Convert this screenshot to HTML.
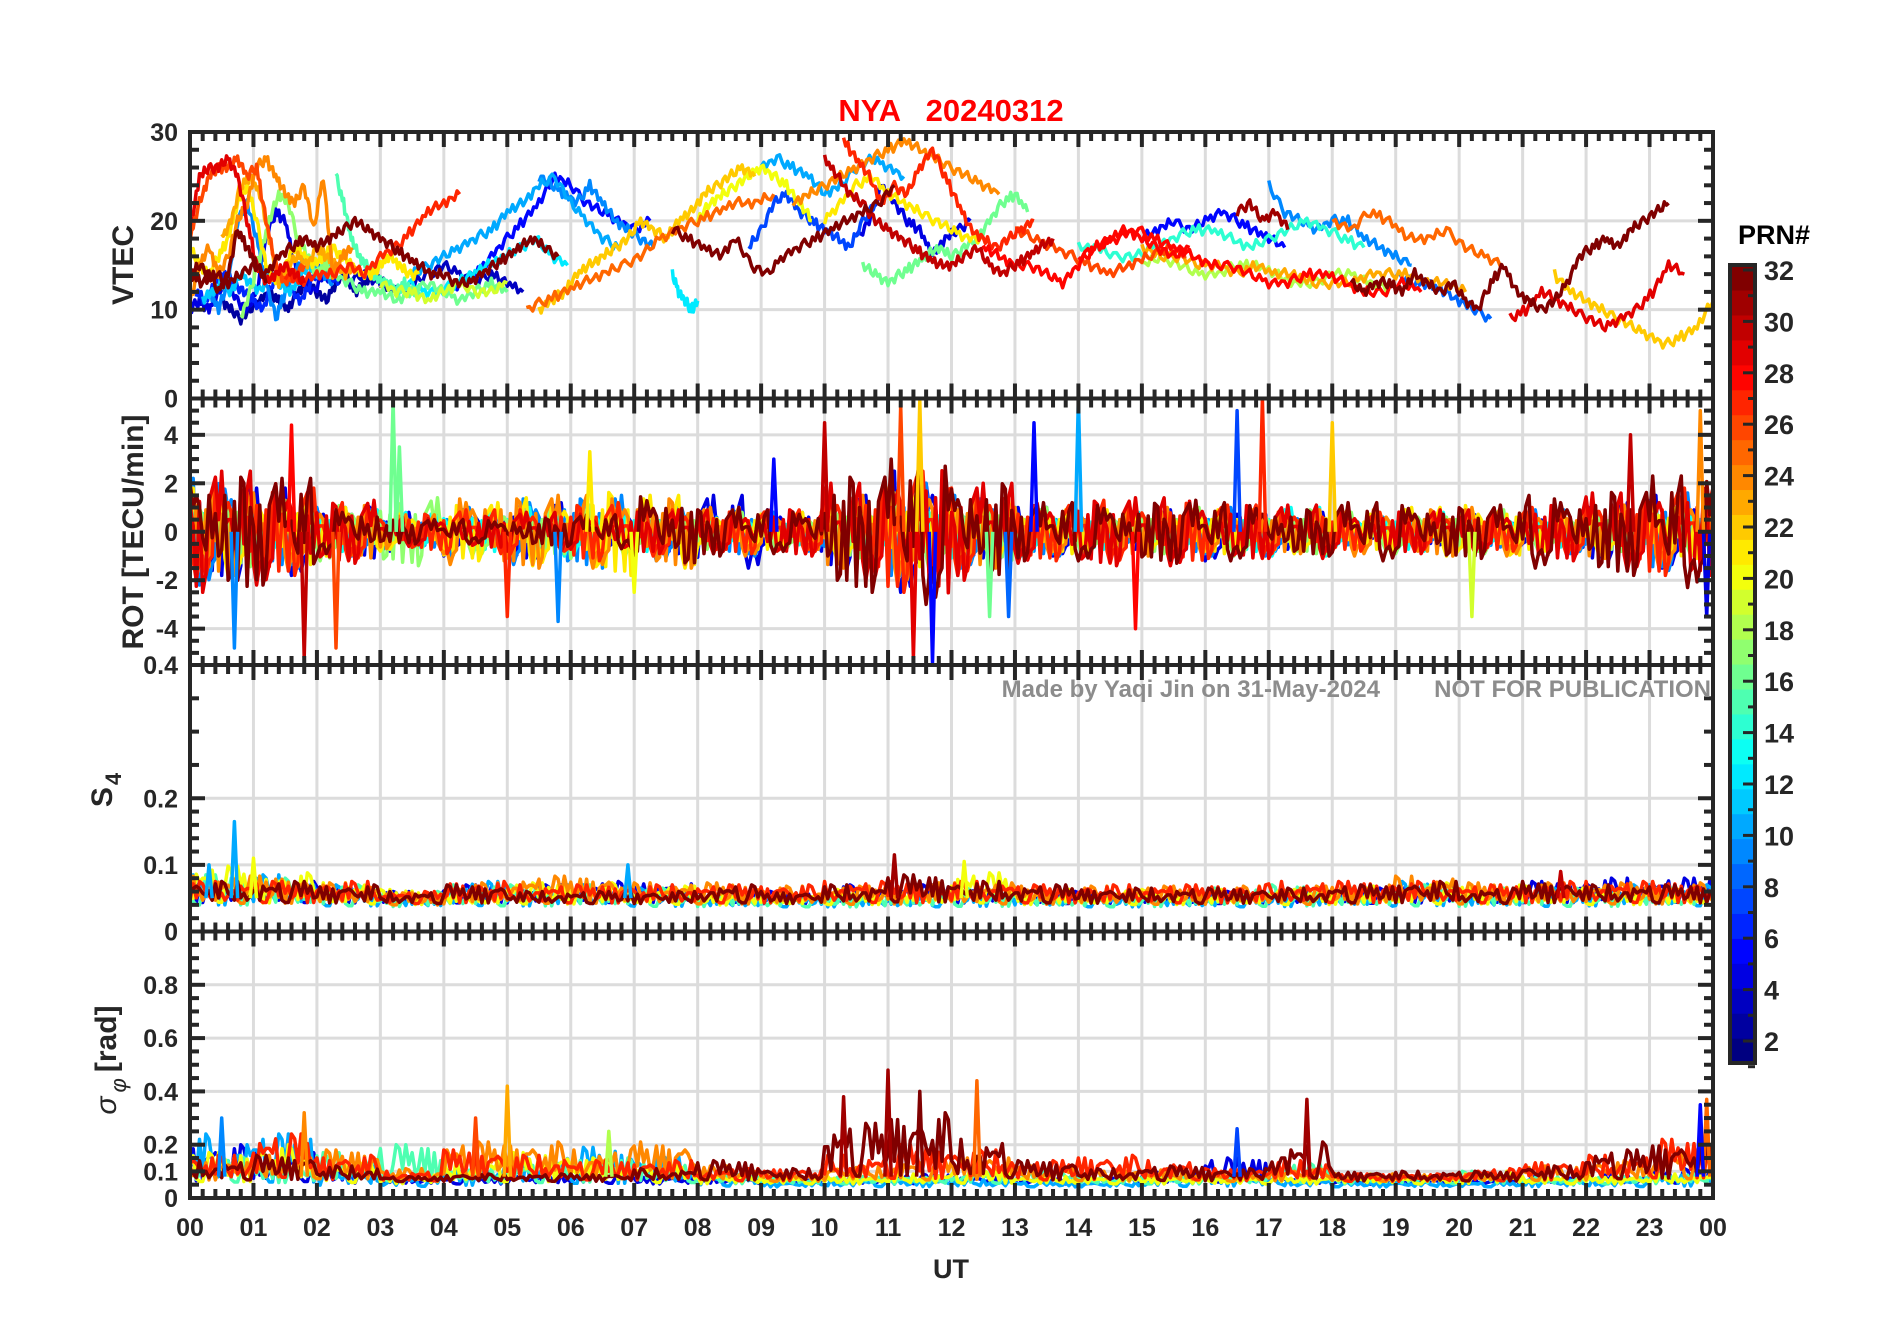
<!DOCTYPE html>
<html><head><meta charset="utf-8"><title>NYA 20240312</title>
<style>
html,body{margin:0;padding:0;background:#fff;}
svg{display:block;font-family:"Liberation Sans",Arial,sans-serif;}
</style></head>
<body>
<svg id="chart" width="1902" height="1330" viewBox="0 0 1902 1330" xmlns="http://www.w3.org/2000/svg">
<rect x="0" y="0" width="1902" height="1330" fill="#fff"/>
<text x="951" y="121" text-anchor="middle" font-size="31" font-weight="bold" fill="#ff0000" xml:space="preserve">NYA   20240312</text>
<g id="layer"></g>
</svg>
<script>
// ---------- data ----------
const hourLabels = ["00","01","02","03","04","05","06","07","08","09","10","11","12","13","14","15","16","17","18","19","20","21","22","23","00"];
const prnTicks = [2,4,6,8,10,12,14,16,18,20,22,24,26,28,30,32];
// VTEC tracks: prn, start hour, step (h), values
const vtecPrn   = [4,6,9,11,2,10,12,21,23,17,15,24,26,29,32,5,9,12,22,25,32,27,20,24,7,4,16,21,10,32,27,30,5,23,9,28,32,25,8,29,22,28,14,18,31,26,16,19,3];
const vtecStart = [0,0.1,0.3,0.2,0.5,3.5,3.2,0,0.5,0.8,2.3,0,0,0,0,4.0,5.5,7.6,5.5,5.3,0,1.5,8.0,9.5,8.8,10.5,10.6,10.0,9.0,7.6,10.3,10.0,15.0,15.0,17.0,14.0,18.3,18.0,19.0,20.8,21.5,12.5,14.0,15.0,16.5,13.0,2.0,3.0,2.5];
const vtecStep  = [0.15,0.15,0.15,0.15,0.15,0.25,0.25,0.15,0.15,0.15,0.12,0.15,0.15,0.15,0.15,0.25,0.2,0.1,0.2,0.3,0.2,0.25,0.2,0.25,0.2,0.2,0.2,0.25,0.25,0.25,0.2,0.2,0.25,0.3,0.25,0.3,0.2,0.3,0.25,0.25,0.25,0.25,0.3,0.3,0.2,0.3,0.25,0.25,0.25];
const vtecVals = [
 [10,11,10,12,13,11,10,12,18,21,20,15,13,12,14,13],
 [12,11,13,14,13,12,11,10,13,14,12,11,13,15,14,13],
 [12,10,13,20,22,18,13,9,12,14,16,15,14,13],
 [11,12,13,12,14,13,12,14,13,12,13,15,14,15,14],
 [11,10,9,10,11,12,11,10,12,13,12,11,13,14,12,13,14,13,12],
 [14,15,16,17,18,19,21,22,24,25,22,20,18,17],
 [12,13,12,12,13,14,15,16,17,18,16,15],
 [17,15,14,16,18,22,24,20,15,13,15,17,16,15,16,17,16,15,14,14,15,16,15,14,14],
 [18,20,24,25,23,18,13,15,16,15,17,16,15,14,15],
 [9,12,16,20,23,22,18,16,14,15,14],
 [25,22,18,16,15,14,13,13,12,13,12,12],
 [11,15,17,14,16,20,22,26,27,25,23,22,24,19,25,14,16,17],
 [18,22,25,26,26,27,25,26,20,15,13,14,15],
 [19,25,26,26,27,25,20,15,13,14,15,14,13],
 [14,15,14,12,14,19,17,15,13],
 [12,13,14,16,18,20,22,25,24,22,21,20,19,20],
 [25,24,23,22,24,22,20,19,18,17],
 [14,12,11,10,11],
 [10,11,12,14,15,16,17,18,20,19,18,20,21,23,24,25,26,25],
 [10,11,12,13,14,15,16,18,19,20,21,22,22,23],
 [14,13,14,13,14,15,14,16,17,18,17,18,19,20,19,18,17,16,15,14,14,13,13,14,15,16,17,18,17,16],
 [14,13,14,14,15,14,16,17,19,21,22,23],
 [20,22,23,24,25,26,25,24,22,20],
 [22,23,24,25,26,27,28,29,28,27,26,25,24,23],
 [17,19,22,23,21,20,19,18,17,20,22],
 [18,20,24,22,20,19,16,18,19,20],
 [15,14,13,14,15,16,17,16,17,18,20,22,23,21],
 [20,22,24,25,23,22,21,20,19,18,18],
 [26,27,26,25,23,24,26,27,26,25],
 [19,18,17,16,18,15,14,16,17,18,19,20,21,22,24],
 [29,27,25,22,24,23,26,28,25,22,19,18,17,18,19,20],
 [27,25,23,22,20,19,18,17,16,15,15,16,17,15,14,15,16,17,18],
 [18,19,20,19,20,21,20,19,18,17],
 [17,16,16,15,15,14,15,14,14,13,13,13,14,14,14,13,13,12],
 [24,21,20,19,20,20,18,17,16,15],
 [16,17,18,19,18,17,16,15,15,14,13,13,14,14,13,12,12,13,12],
 [13,12,13,13,12,14,13,12,13,11,10,13,15,12,11,10,11,13,16,17,18,17,19,20,21,22],
 [20,19,21,20,18,18,19,17,16,15],
 [14,13,13,12,11,10,9],
 [9,10,12,11,10,9,8,9,10,12,15,14],
 [14,12,11,10,9,8,7,6,7,8,11,14,16,15,17,16],
 [17,16,15,15,14,13,15,17,18,19,18,17,16,17],
 [17,17,16,16,17,18,19,19,18,17,18,19,20,19,18,17],
 [15,16,15,14,14,15,15,14,13,13,14,14,13,12],
 [21,22,20,21,19],
 [19,18,17,16,15,14,15,16,17,16],
 [15,14,13,12,12,11,12,13,12,11,12,13,12],
 [13,12,12,11,12,13,12,12,13],
 [13,14,13,12,13,14,15,14,13,14,13,12]
];
// ROT: series PRNs, hourly amplitude (TECU/min), shared jitter pattern, spikes
const rotPrn = [4,9,13,17,21,24,27,29,32];
const rotAmp = [
 [2.0,1.8,1.2,0.8,1.0,1.2,1.0,1.0,1.5,1.0,1.5,2.5,1.2,1.0,0.8,0.9,1.2,0.8,0.5,0.6,0.7,0.8,1.2,1.5],
 [2.2,1.5,1.0,0.7,1.0,1.5,1.5,1.2,1.0,0.8,1.2,2.0,1.5,1.0,0.8,0.9,1.0,0.9,0.6,0.6,0.7,0.9,1.0,1.6],
 [1.5,1.2,0.9,0.8,0.9,1.0,1.0,0.9,0.7,0.6,1.0,1.3,1.2,1.0,0.8,0.9,0.9,1.0,0.7,0.8,0.7,0.7,0.9,1.0],
 [1.6,1.3,1.2,1.4,1.0,1.0,1.1,0.9,0.8,0.8,1.2,1.6,1.3,1.0,0.9,1.0,1.0,1.0,0.8,1.0,0.9,0.8,0.9,1.0],
 [1.8,1.5,1.0,0.8,1.2,1.4,1.8,1.5,0.9,0.8,1.2,1.6,1.2,1.0,0.9,0.9,1.0,0.9,0.8,1.0,1.2,0.8,0.9,1.1],
 [1.8,1.6,1.2,0.7,1.5,1.5,1.5,1.5,1.0,0.9,1.5,2.2,1.5,1.0,1.0,1.0,0.9,0.9,1.0,1.0,1.0,0.9,1.1,1.5],
 [2.0,1.8,1.2,0.8,0.9,1.0,1.2,1.0,0.9,0.9,1.8,2.5,1.8,1.2,1.3,1.3,1.1,1.0,0.8,0.8,0.8,1.0,1.4,1.8],
 [2.5,2.2,1.3,0.6,0.7,0.8,0.8,0.9,0.9,1.0,2.0,2.8,2.0,1.3,1.4,1.4,1.2,1.1,0.9,0.9,0.9,1.2,1.6,2.0],
 [2.5,2.2,1.0,0.5,0.5,0.6,0.7,1.6,1.0,0.9,2.5,3.0,2.2,1.2,1.2,1.3,1.2,1.0,1.2,1.2,1.1,1.5,1.8,2.3]
];
const jitter = [0.3,-0.8,0.5,1,-0.2,-0.9,0.6,-0.4,0.9,-1,0.1,0.7,-0.6,0.4,-0.3,0.8,-0.7,0.2,1,-0.5,-0.1,0.6,-0.9,0.5,0.2,-0.6,0.9,-0.3,-0.8,0.4,0.7,-0.2,-1,0.3,0.6,-0.7,0.1,0.9,-0.4,-0.6,0.8,-0.1,0.5,-0.9,0.2,0.7,-0.5,0.4];
const rotSpikeHour = [0.7,1.6,1.8,2.3,3.2,3.3,5.0,5.8,6.3,10.0,11.2,11.4,11.7,11.5,12.6,13.3,14.0,14.9,16.5,16.9,18.0,20.2,22.7,23.8,23.9,7.0,9.2,12.9];
const rotSpikeVal  = [-4.8,4.4,-5.2,-4.8,5.4,3.5,-3.5,-3.7,3.3,4.5,5.2,-5.2,-5.4,5.4,-3.5,4.5,5.5,-4.0,5.0,5.5,4.5,-3.5,4.0,5.0,-3.5,-2.5,3.0,-3.5];
const rotSpikePrn  = [9,28,30,26,16,16,27,9,21,30,26,29,5,22,16,5,10,28,7,27,22,19,30,24,4,20,5,8];
// S4 series
const s4Prn = [4,10,15,20,24,27,32];
const s4Base = [0.04,0.035,0.035,0.038,0.038,0.04,0.04];
const s4Amp = [
 [0.035,0.035,0.03,0.02,0.03,0.03,0.035,0.035,0.02,0.02,0.03,0.03,0.03,0.02,0.02,0.02,0.02,0.02,0.025,0.03,0.02,0.035,0.04,0.04],
 [0.05,0.05,0.035,0.02,0.04,0.035,0.035,0.03,0.02,0.02,0.02,0.02,0.03,0.025,0.02,0.02,0.02,0.025,0.03,0.04,0.025,0.03,0.035,0.035],
 [0.05,0.045,0.035,0.025,0.035,0.035,0.035,0.03,0.025,0.02,0.02,0.025,0.03,0.025,0.02,0.025,0.03,0.035,0.03,0.035,0.03,0.03,0.03,0.03],
 [0.06,0.05,0.035,0.025,0.025,0.035,0.035,0.03,0.02,0.02,0.025,0.03,0.05,0.025,0.025,0.025,0.025,0.025,0.03,0.035,0.035,0.03,0.025,0.025],
 [0.045,0.045,0.035,0.02,0.035,0.045,0.045,0.035,0.035,0.03,0.03,0.035,0.035,0.03,0.03,0.03,0.03,0.03,0.035,0.045,0.035,0.035,0.035,0.035],
 [0.035,0.035,0.035,0.02,0.035,0.03,0.03,0.03,0.03,0.03,0.035,0.035,0.035,0.03,0.03,0.03,0.03,0.035,0.035,0.035,0.03,0.035,0.035,0.035],
 [0.035,0.035,0.03,0.02,0.03,0.02,0.02,0.02,0.03,0.02,0.03,0.045,0.035,0.03,0.025,0.025,0.025,0.025,0.03,0.035,0.025,0.035,0.03,0.03]
];
const s4SpikeHour = [0.7,0.3,1.0,11.1,12.2,6.9,21.6];
const s4SpikeVal  = [0.165,0.1,0.11,0.115,0.105,0.1,0.09];
const s4SpikePrn  = [10,10,20,31,20,10,30];
// sigma-phi series
const sigPrn = [4,10,15,20,24,27,32];
const sigBase = [0.05,0.04,0.05,0.05,0.06,0.06,0.06];
const sigAmp = [
 [0.15,0.12,0.06,0.03,0.03,0.04,0.05,0.03,0.03,0.02,0.03,0.04,0.03,0.03,0.03,0.05,0.1,0.03,0.02,0.02,0.02,0.03,0.04,0.06],
 [0.2,0.2,0.08,0.04,0.08,0.12,0.15,0.12,0.05,0.02,0.03,0.03,0.03,0.02,0.02,0.04,0.05,0.03,0.02,0.02,0.02,0.03,0.03,0.05],
 [0.1,0.08,0.12,0.15,0.06,0.08,0.1,0.08,0.04,0.03,0.03,0.03,0.05,0.06,0.03,0.03,0.04,0.08,0.03,0.04,0.05,0.03,0.03,0.04],
 [0.12,0.15,0.08,0.04,0.1,0.12,0.1,0.08,0.04,0.03,0.03,0.04,0.06,0.03,0.03,0.03,0.03,0.03,0.04,0.03,0.05,0.03,0.03,0.04],
 [0.08,0.1,0.12,0.05,0.15,0.15,0.12,0.15,0.06,0.03,0.06,0.08,0.1,0.06,0.05,0.05,0.03,0.05,0.03,0.03,0.03,0.06,0.08,0.12],
 [0.1,0.18,0.1,0.04,0.12,0.1,0.08,0.08,0.05,0.05,0.1,0.14,0.12,0.08,0.1,0.08,0.05,0.08,0.03,0.03,0.05,0.08,0.1,0.16],
 [0.08,0.1,0.06,0.02,0.03,0.03,0.03,0.05,0.08,0.05,0.22,0.26,0.16,0.08,0.05,0.06,0.05,0.15,0.04,0.04,0.04,0.06,0.12,0.15]
];
const sigSpikeHour = [11.0,12.4,10.3,5.0,17.6,23.9,23.8,16.5,1.8,0.5,11.5,4.5,6.6];
const sigSpikeVal  = [0.48,0.44,0.38,0.42,0.37,0.37,0.35,0.26,0.32,0.3,0.4,0.3,0.25];
const sigSpikePrn  = [31,25,31,23,31,25,5,7,24,9,32,26,18];

// ---------- layout ----------
const L = 190, R = 1713, W = R - L, H = 266.5;
const panelTop = [132, 398.5, 665, 931.5];
const panelMin = [0, -5.5, 0, 0];
const panelMax = [30, 5.5, 0.4, 1];
const NS = "http://www.w3.org/2000/svg";
const layer = document.getElementById("layer");
const xs = h => L + h / 24 * W;
const ys = (p, v) => panelTop[p] + H - (v - panelMin[p]) / (panelMax[p] - panelMin[p]) * H;
function jet(prn) {
  const t = (prn - 1) / 31;
  const c = x => Math.round(255 * Math.max(0, Math.min(1, x)));
  return `rgb(${c(1.5 - Math.abs(4 * t - 3))},${c(1.5 - Math.abs(4 * t - 2))},${c(1.5 - Math.abs(4 * t - 1))})`;
}
function mk(tag, attrs, parent) {
  const e = document.createElementNS(NS, tag);
  for (const k in attrs) e.setAttribute(k, attrs[k]);
  (parent || layer).appendChild(e);
  return e;
}
const defs = mk("defs", {});
for (let p = 0; p < 4; p++) {
  const cp = mk("clipPath", { id: "clip" + p }, defs);
  mk("rect", { x: L, y: panelTop[p], width: W, height: H }, cp);
}
const gridY = [[10, 20], [-4, -2, 2, 4], [0.1, 0.2], [0.1, 0.2, 0.4, 0.6, 0.8]];
for (let p = 0; p < 4; p++) {
  const g = mk("g", { stroke: "#dcdcdc", "stroke-width": 3 });
  
  
  for (let h = 1; h < 24; h++) mk("line", { x1: xs(h), x2: xs(h), y1: panelTop[p], y2: panelTop[p] + H }, g);
  gridY[p].forEach(v => mk("line", { x1: L, x2: R, y1: ys(p, v), y2: ys(p, v) }, g));
}
function pathD(pts) { return pts.map((q, i) => (i ? "L" : "M") + q[0].toFixed(1) + "," + q[1].toFixed(1)).join(""); }
const g1 = mk("g", { "clip-path": "url(#clip0)", fill: "none", "stroke-width": 3.5, "stroke-linejoin": "round" });


vtecPrn.map((p, i) => i).sort((a, b) => vtecPrn[a] - vtecPrn[b]).forEach(i => {
  const pts = [];
  const vals = vtecVals[i];
  for (let k = 0; k < vals.length - 1; k++) {
    for (let s = 0; s < 6; s++) {
      const f = s / 6;
      const v = vals[k] * (1 - f) + vals[k + 1] * f + 0.6 * jitter[(k * 6 + s + i * 5) % jitter.length];
      pts.push([xs(vtecStart[i] + (k + f) * vtecStep[i]), ys(0, v)]);
    }
  }
  pts.push([xs(vtecStart[i] + (vals.length - 1) * vtecStep[i]), ys(0, vals[vals.length - 1])]);
  const e = mk("path", { d: pathD(pts), stroke: jet(vtecPrn[i]) }, g1);
  
  
});
function noisy(panel, prns, fnVal, name) {
  const g = mk("g", { "clip-path": "url(#clip" + panel + ")", fill: "none", "stroke-width": 3.5, "stroke-linejoin": "round" });
  
  
  prns.forEach((prn, si) => {
    const pts = [];
    for (let i = 0; i <= 24 * 20; i++) {
      const h = i / 20;
      pts.push([xs(h), ys(panel, fnVal(si, Math.min(23, Math.floor(h)), i))]);
    }
    const e = mk("path", { d: pathD(pts), stroke: jet(prn) }, g);
    
    
  });
  return g;
}
function spikes(panel, hours, vals, prns, base, g, name) {
  hours.forEach((h, i) => {
    const pts = [[xs(h - 0.05), ys(panel, base)], [xs(h), ys(panel, vals[i])], [xs(h + 0.05), ys(panel, base)]];
    const e = mk("path", { d: pathD(pts), stroke: jet(prns[i]) }, g);
    
    
  });
}
const gRot = noisy(1, rotPrn, (s, hr, i) => jitter[(i * 7 + s * 11) % jitter.length] * rotAmp[s][hr], "rot");
spikes(1, rotSpikeHour, rotSpikeVal, rotSpikePrn, 0, gRot, "rot");
const gS4 = noisy(2, s4Prn, (s, hr, i) => s4Base[s] + Math.abs(jitter[(i * 5 + s * 13) % jitter.length]) * s4Amp[s][hr], "s4");
spikes(2, s4SpikeHour, s4SpikeVal, s4SpikePrn, 0.05, gS4, "s4");
const gSig = noisy(3, sigPrn, (s, hr, i) => sigBase[s] + Math.abs(jitter[(i * 5 + s * 7) % jitter.length]) * sigAmp[s][hr], "sigma");
spikes(3, sigSpikeHour, sigSpikeVal, sigSpikePrn, 0.08, gSig, "sigma");

const majY = [[0, 10, 20, 30], [-4, -2, 0, 2, 4], [0, 0.1, 0.2, 0.4], [0, 0.1, 0.2, 0.4, 0.6, 0.8]];
const labY = [["0", "10", "20", "30"], ["-4", "-2", "0", "2", "4"], ["0", "0.1", "0.2", "0.4"], ["0", "0.1", "0.2", "0.4", "0.6", "0.8"]];
const minStep = [2, 0.5, 0.02, 0.05];
const ink = "#262626";
for (let p = 0; p < 4; p++) {
  const g = mk("g", { stroke: ink, "stroke-width": 4, fill: "none" });
  
  
  const t = panelTop[p], b = t + H;
  mk("rect", { x: L, y: t, width: W, height: H }, g);
  for (let h = 0; h <= 24; h += 0.2) {
    const major = Math.abs(h - Math.round(h)) < 1e-6;
    const len = major ? 15 : 9;
    mk("line", { x1: xs(h), x2: xs(h), y1: t, y2: t + len }, g);
    mk("line", { x1: xs(h), x2: xs(h), y1: b, y2: b - len }, g);
  }
  for (let v = panelMin[p]; v <= panelMax[p] + 1e-9; v += (p === 2 && v >= 0.2 - 1e-9 ? 0.05 : minStep[p])) {
    const major = majY[p].some(m => Math.abs(m - v) < 1e-6);
    const len = major ? 15 : 9;
    mk("line", { x1: L, x2: L + len, y1: ys(p, v), y2: ys(p, v) }, g);
    mk("line", { x1: R, x2: R - len, y1: ys(p, v), y2: ys(p, v) }, g);
  }
  majY[p].forEach((v, i) => {
    const e = mk("text", { x: 178, y: ys(p, v) + 9, "text-anchor": "end", "font-size": 25, "font-weight": "bold", fill: ink });
    e.textContent = labY[p][i];
    
    
  });
}
hourLabels.forEach((lab, i) => {
  const e = mk("text", { x: xs(i), y: 1236, "text-anchor": "middle", "font-size": 25, "font-weight": "bold", fill: ink });
  e.textContent = lab;
  
  
});
const ut = mk("text", { x: 951, y: 1278, "text-anchor": "middle", "font-size": 27, "font-weight": "bold", fill: ink });
ut.textContent = "UT";


function ytitle(x, y, html, name) {
  const e = mk("text", { x: 0, y: 0, transform: `translate(${x},${y}) rotate(-90)`, "text-anchor": "middle", "font-size": 30, "font-weight": "bold", fill: ink });
  e.innerHTML = html;
  
  
}
ytitle(133, 265, "VTEC", "y-axis-title-vtec");
ytitle(143, 532, "ROT [TECU/min]", "y-axis-title-rot");
ytitle(112, 790, 'S<tspan font-size="22" dy="9" dx="2">4</tspan>', "y-axis-title-s4");
ytitle(116, 1060, '<tspan font-style="italic" font-weight="normal">σ</tspan><tspan font-size="22" dy="10" dx="4" font-style="italic" font-weight="normal">φ</tspan><tspan dy="-10" dx="6">[rad]</tspan>', "y-axis-title-sigma");
const wm1 = mk("text", { x: 1380, y: 697, "text-anchor": "end", "font-size": 24, "font-weight": "bold", fill: "#8c8c8c" });
wm1.textContent = "Made by Yaqi Jin on 31-May-2024";


const wm2 = mk("text", { x: 1711, y: 697, "text-anchor": "end", "font-size": 24, "font-weight": "bold", fill: "#8c8c8c" });
wm2.textContent = "NOT FOR PUBLICATION";


const cbTop = 265, cbBot = 1063, cbX = 1730, cbW = 25;
const cb = mk("g", {});


for (let k = 1; k <= 32; k++) {
  const y0 = cbBot - k * (cbBot - cbTop) / 32;
  mk("rect", { x: cbX, y: y0, width: cbW, height: (cbBot - cbTop) / 32 + 0.6, fill: jet(k) }, cb);
}
mk("rect", { x: cbX, y: cbTop, width: cbW, height: cbBot - cbTop, fill: "none", stroke: ink, "stroke-width": 4 }, cb);
const cbY = v => 270 + (32 - v) * 25.7;
for (let v = 1; v <= 32; v += 1) {
  mk("line", { x1: cbX + cbW, x2: cbX + cbW - (v % 2 === 0 ? 12 : 7), y1: cbY(v), y2: cbY(v), stroke: ink, "stroke-width": 3 }, cb);
}
prnTicks.forEach(v => {
  const e = mk("text", { x: 1764, y: cbY(v) + 10, "font-size": 27, "font-weight": "bold", fill: ink }, cb);
  e.textContent = String(v);
  
  
});
const prnT = mk("text", { x: 1738, y: 244, "font-size": 27, "font-weight": "bold", fill: "#000" });
prnT.textContent = "PRN#";


</script>
</body></html>
